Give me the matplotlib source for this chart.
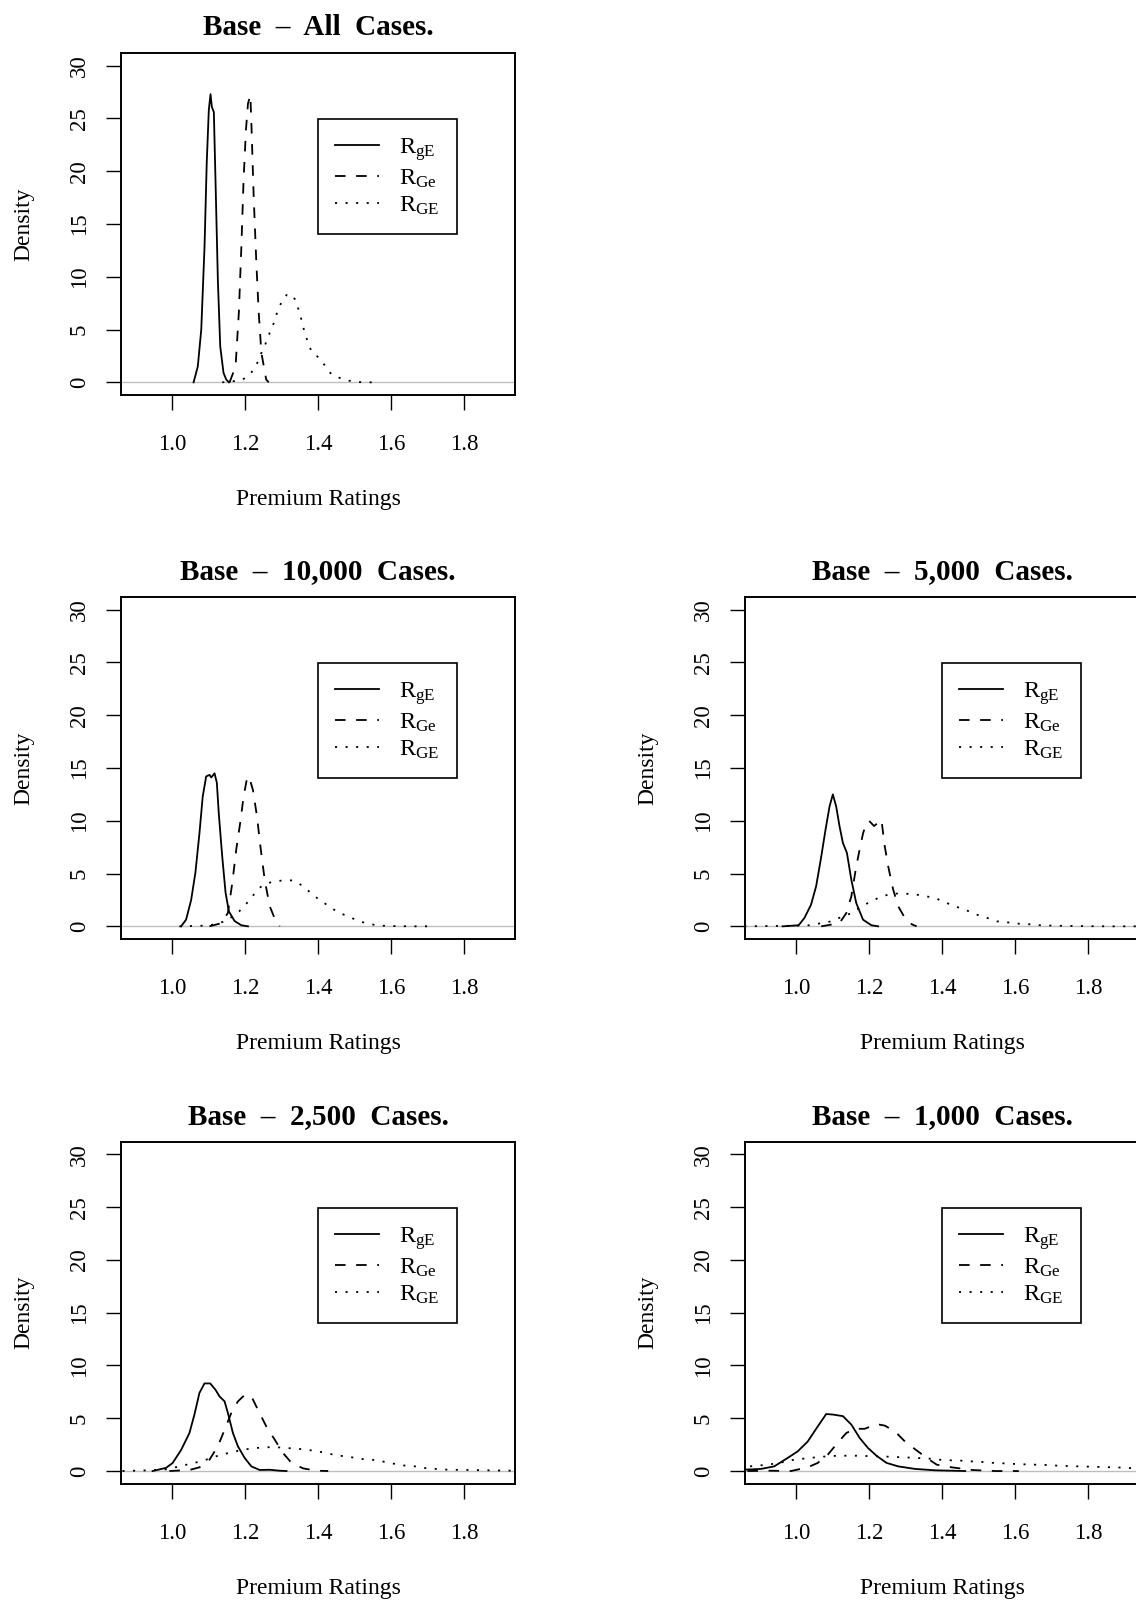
import matplotlib
matplotlib.use('Agg')
import matplotlib.pyplot as plt

plt.rcParams['font.family'] = ['Liberation Serif', 'DejaVu Serif']
plt.rcParams['mathtext.fontset'] = 'custom'
plt.rcParams['mathtext.rm'] = 'Liberation Serif'
plt.rcParams['mathtext.it'] = 'Liberation Serif:italic'
plt.rcParams['mathtext.bf'] = 'Liberation Serif:bold'
plt.rcParams['lines.scale_dashes'] = False

# ---------------- data ----------------
titles = ["Base  \u2013  All  Cases.", "Base  \u2013  10,000  Cases.", "Base  \u2013  5,000  Cases.",
          "Base  \u2013  2,500  Cases.", "Base  \u2013  1,000  Cases."]
series_labels = [r"R$_{\rm gE}$", r"R$_{\rm Ge}$", r"R$_{\rm GE}$"]
x_ticks = [1.0, 1.2, 1.4, 1.6, 1.8]
x_tick_labels = ["1.0", "1.2", "1.4", "1.6", "1.8"]
y_ticks = [0, 5, 10, 15, 20, 25, 30]
y_tick_labels = ["0", "5", "10", "15", "20", "25", "30"]
x_label = "Premium Ratings"
y_label = "Density"

# All cases
all_gE_x = [1.059, 1.0705, 1.080, 1.089, 1.095, 1.1007, 1.1054, 1.109, 1.1145, 1.119, 1.1255, 1.132, 1.141, 1.1485, 1.156]
all_gE_y = [0, 1.5, 5.0, 12.9, 20.8, 25.8, 27.3, 26.1, 25.6, 19.2, 9.7, 3.4, 0.9, 0.26, 0]
all_Ge_x = [1.1576, 1.174, 1.183, 1.190, 1.196, 1.2025, 1.208, 1.2146, 1.218, 1.2237, 1.231, 1.2375, 1.2448, 1.258, 1.265]
all_Ge_y = [0, 1.5, 6.6, 12.9, 19.2, 23.9, 26.4, 27.2, 23.9, 17.6, 11.3, 6.6, 2.8, 0.26, 0]
all_GE_x = [1.1375, 1.1668, 1.194, 1.217, 1.233, 1.245, 1.2567, 1.2677, 1.2787, 1.2878, 1.2998, 1.3164, 1.3365,
            1.3466, 1.3549, 1.362, 1.3713, 1.3824, 1.4034, 1.421, 1.4374, 1.4666, 1.495, 1.524, 1.557]
all_GE_y = [0, 0.1, 0.26, 0.9, 1.8, 2.8, 3.7, 4.7, 5.6, 6.6, 7.6, 8.4, 7.9, 6.9, 5.9, 4.9, 3.9, 2.9, 2.3, 1.5,
            0.73, 0.32, 0.07, 0, 0]

# 10,000 cases
k10_gE_x = [1.0248, 1.0385, 1.0523, 1.064, 1.075, 1.084, 1.0935, 1.1026, 1.1073, 1.1164, 1.1227, 1.128, 1.1375,
            1.1466, 1.1557, 1.1714, 1.1898, 1.208]
k10_gE_y = [0, 0.64, 2.5, 5.1, 8.8, 12.3, 14.2, 14.35, 14.1, 14.5, 13.6, 10.7, 6.6, 3.2, 1.42, 0.5, 0.1, 0]
k10_Ge_x = [1.1026, 1.1348, 1.153, 1.165, 1.176, 1.188, 1.196, 1.2053, 1.2108, 1.2218, 1.2328, 1.242, 1.2539,
            1.2677, 1.2842, 1.295]
k10_Ge_y = [0, 0.3, 1.27, 4.1, 7.3, 10.1, 12.3, 14.0, 14.2, 12.9, 10.4, 7.6, 4.4, 1.9, 0.5, 0]
k10_GE_x = [1.020, 1.080, 1.107, 1.1486, 1.185, 1.205, 1.2237, 1.245, 1.2723, 1.3026, 1.332, 1.3576, 1.3824,
            1.4052, 1.431, 1.4556, 1.483, 1.5106, 1.538, 1.5656, 1.598, 1.653, 1.708]
k10_GE_y = [0, 0.05, 0.13, 0.5, 1.45, 2.2, 3.0, 3.8, 4.2, 4.35, 4.35, 3.85, 3.1, 2.46, 1.9, 1.3, 0.95, 0.5,
            0.25, 0.07, 0.03, 0, 0]

# 5,000 cases
k5_gE_x = [0.963, 1.007, 1.023, 1.041, 1.055, 1.069, 1.0807, 1.0917, 1.1008, 1.110, 1.119, 1.1284, 1.1394,
           1.1515, 1.165, 1.1835, 1.2066, 1.225]
k5_gE_y = [0, 0.1, 0.8, 2.05, 3.8, 6.6, 9.15, 11.35, 12.5, 11.35, 9.5, 7.9, 6.95, 4.4, 2.2, 0.63, 0.1, 0]
k5_Ge_x = [1.069, 1.119, 1.1377, 1.1515, 1.165, 1.1744, 1.1835, 1.191, 1.200, 1.2138, 1.234, 1.243, 1.2524,
           1.266, 1.280, 1.298, 1.3168, 1.3306]
k5_Ge_y = [0, 0.3, 1.26, 2.84, 5.7, 7.3, 8.8, 9.6, 10.0, 9.5, 10.1, 7.6, 5.7, 3.5, 1.9, 0.8, 0.2, 0]
k5_GE_x = [0.858, 0.9815, 1.0366, 1.0964, 1.1284, 1.156, 1.179, 1.2066, 1.234, 1.266, 1.2937, 1.3212, 1.3488,
           1.381, 1.4085, 1.436, 1.4683, 1.4959, 1.5234, 1.551, 1.5785, 1.6105, 1.638, 1.670, 1.7253, 1.7896,
           1.854, 1.95]
k5_GE_y = [0, 0.05, 0.1, 0.47, 0.95, 1.3, 1.9, 2.37, 2.84, 3.1, 3.1, 3.05, 2.9, 2.68, 2.27, 1.9, 1.5, 1.1, 0.8,
           0.47, 0.38, 0.25, 0.2, 0.1, 0.05, 0.02, 0, 0]

# 2,500 cases
k25_gE_x = [0.9466, 0.9835, 1.0017, 1.0248, 1.0476, 1.0613, 1.075, 1.0889, 1.1045, 1.119, 1.130, 1.1439, 1.153,
            1.1668, 1.1805, 1.199, 1.2173, 1.240, 1.2677, 1.2952, 1.3136]
k25_gE_y = [0, 0.3, 0.77, 2.0, 3.6, 5.35, 7.4, 8.3, 8.3, 7.7, 7.07, 6.6, 5.5, 3.6, 2.34, 1.24, 0.44, 0.1, 0.12,
            0.03, 0]
k25_Ge_x = [0.9926, 1.0476, 1.075, 1.1026, 1.1254, 1.1439, 1.1623, 1.1805, 1.199, 1.2173, 1.2355, 1.2586, 1.2814,
            1.3043, 1.3274, 1.3593, 1.396, 1.428]
k25_Ge_y = [0, 0.1, 0.35, 1.08, 2.34, 3.9, 5.5, 6.6, 7.2, 7.07, 5.8, 4.2, 2.97, 1.7, 0.77, 0.25, 0.03, 0]
k25_GE_x = [0.864, 0.928, 0.9835, 1.020, 1.0476, 1.0798, 1.1073, 1.1348, 1.1623, 1.1942, 1.2217, 1.2492, 1.2814,
            1.3136, 1.341, 1.3686, 1.4006, 1.428, 1.4602, 1.4878, 1.520, 1.5475, 1.5794, 1.6069, 1.639, 1.6666,
            1.6988, 1.7263, 1.758, 1.818, 1.8776, 1.937]
k25_GE_y = [0, 0.06, 0.16, 0.44, 0.67, 0.92, 1.24, 1.55, 1.77, 2.02, 2.15, 2.24, 2.27, 2.18, 2.12, 2.02, 1.86,
            1.65, 1.45, 1.33, 1.14, 1.08, 0.89, 0.7, 0.51, 0.44, 0.25, 0.19, 0.12, 0.1, 0.06, 0.03]

# 1,000 cases
k1_gE_x = [0.845, 0.8576, 0.9036, 0.940, 0.9769, 1.0044, 1.032, 1.0595, 1.0826, 1.1008, 1.1284, 1.1515, 1.1744,
           1.1972, 1.2204, 1.248, 1.280, 1.3259, 1.381, 1.4636]
k1_gE_y = [0.1, 0.13, 0.2, 0.44, 1.24, 1.86, 2.8, 4.23, 5.4, 5.35, 5.2, 4.4, 3.13, 2.18, 1.45, 0.77, 0.44, 0.2,
           0.07, 0]
k1_Ge_x = [0.8667, 0.931, 0.986, 1.032, 1.0595, 1.087, 1.1146, 1.1377, 1.1606, 1.1882, 1.2204, 1.2433, 1.2708,
           1.2984, 1.3306, 1.3581, 1.3857, 1.427, 1.482, 1.546, 1.6105]
k1_Ge_y = [0, 0.03, 0, 0.35, 0.77, 1.55, 2.7, 3.6, 4.0, 4.0, 4.45, 4.3, 3.76, 2.8, 1.95, 1.24, 0.6, 0.35, 0.1,
           0, 0]
k1_GE_x = [0.845, 0.8713, 0.9036, 0.9355, 0.9678, 0.995, 1.0275, 1.055, 1.087, 1.1146, 1.1468, 1.1744, 1.2066,
           1.234, 1.266, 1.2984, 1.3259, 1.3581, 1.390, 1.4176, 1.4499, 1.4774, 1.5096, 1.5416, 1.569, 1.601,
           1.629, 1.6565, 1.6887, 1.7207, 1.748, 1.7757, 1.808, 1.840, 1.8678, 1.90, 1.927, 1.96]
k1_GE_y = [0.4, 0.44, 0.54, 0.67, 0.86, 1.08, 1.2, 1.3, 1.4, 1.45, 1.45, 1.45, 1.4, 1.4, 1.33, 1.3, 1.24, 1.2,
           1.08, 1.02, 0.99, 0.92, 0.86, 0.77, 0.73, 0.67, 0.63, 0.6, 0.57, 0.5, 0.47, 0.44, 0.41, 0.38, 0.35,
           0.32, 0.25, 0.22]

panels = [
    (titles[0], (all_gE_x, all_gE_y), (all_Ge_x, all_Ge_y), (all_GE_x, all_GE_y)),
    (titles[1], (k10_gE_x, k10_gE_y), (k10_Ge_x, k10_Ge_y), (k10_GE_x, k10_GE_y)),
    (titles[2], (k5_gE_x, k5_gE_y), (k5_Ge_x, k5_Ge_y), (k5_GE_x, k5_GE_y)),
    (titles[3], (k25_gE_x, k25_gE_y), (k25_Ge_x, k25_Ge_y), (k25_GE_x, k25_GE_y)),
    (titles[4], (k1_gE_x, k1_gE_y), (k1_Ge_x, k1_Ge_y), (k1_GE_x, k1_GE_y)),
]

# ---------------- layout ----------------
W, H = 1136, 1601
fig = plt.figure(figsize=(W / 100, H / 100), dpi=100)

col_left = [121, 745]
row_top = [53, 597, 1141.7]
box_w, box_h = 394, 342
slots = [(0, 0), (1, 0), (1, 1), (2, 0), (2, 1)]

styles = [dict(linestyle='-'),
          dict(linestyle=(0, (7.6, 7.6))),
          dict(linestyle=(0, (1.5, 6.1)))]

for (title, s1, s2, s3), (r, c) in zip(panels, slots):
    l = col_left[c]
    t = row_top[r]
    ax = fig.add_axes([l / W, 1 - (t + box_h) / H, box_w / W, box_h / H])
    ax.axhline(0, color='#bebebe', lw=1.0, zorder=1)
    handles = []
    for (xs, ys), st, lab in zip((s1, s2, s3), styles, series_labels):
        ln, = ax.plot(xs, ys, color='black', lw=1.3, dash_capstyle='butt', label=lab, zorder=2, **st)
        handles.append(ln)
    ax.set_xlim(0.86, 1.94)
    ax.set_ylim(-1.2, 31.2)
    ax.set_xticks(x_ticks)
    ax.set_xticklabels(x_tick_labels)
    ax.set_yticks(y_ticks)
    ax.set_yticklabels(y_tick_labels)
    ax.tick_params(axis='both', direction='out', length=10.5, width=1.0, labelsize=16.5, color='black')
    ax.tick_params(axis='x', pad=17.5)
    ax.tick_params(axis='y', pad=12, labelrotation=90)
    for lbl in ax.get_yticklabels():
        lbl.set_verticalalignment('center')
    for sp in ax.spines.values():
        sp.set_linewidth(1.4)
    ax.set_title(title, fontsize=21, fontweight='bold', pad=13)
    ax.set_xlabel(x_label, fontsize=17)
    ax.set_ylabel(y_label, fontsize=17)
    ax.xaxis.set_label_coords(0.5, -0.275)
    ax.yaxis.set_label_coords(-0.22, 0.5)
    leg = ax.legend(handles=handles, loc='upper left', bbox_to_anchor=(0.5, 0.807), borderaxespad=0,
                    fontsize=17.5, frameon=True, fancybox=False, edgecolor='black', framealpha=1,
                    handlelength=1.8, handletextpad=0.85, borderpad=0.7, labelspacing=0.2)
    leg.get_frame().set_linewidth(1.2)

fig.savefig('out.png', dpi=100)
